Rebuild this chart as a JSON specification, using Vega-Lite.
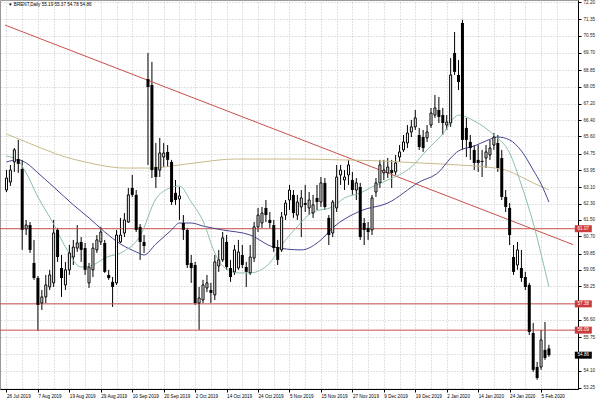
{
"$schema":"https://vega.github.io/schema/vega-lite/v6.json",
"width":578,"height":389,
"autosize":{"type":"none"},
"padding":{"left":0,"top":0,"right":22,"bottom":11},
"background":"white",
"config":{"view":{"stroke":"#999999","strokeWidth":1},"font":"Liberation Sans","axis":{"labelOverlap":false,"labelFlush":false,"labelBound":false,"title":null,"tickCount":200}},
"datasets":{
"ohlc":[
{"i":0,"o":62.97,"h":63.95,"l":62.87,"c":63.56},
{"i":1,"o":63.36,"h":64.20,"l":63.17,"c":63.95},
{"i":2,"o":64.35,"h":65.03,"l":63.86,"c":64.94},
{"i":3,"o":64.49,"h":65.43,"l":63.81,"c":64.25},
{"i":4,"o":64.00,"h":64.45,"l":60.03,"c":61.01},
{"i":5,"o":61.06,"h":61.50,"l":60.76,"c":61.25},
{"i":6,"o":61.25,"h":61.40,"l":59.88,"c":60.03},
{"i":7,"o":59.39,"h":60.52,"l":58.56,"c":58.65},
{"i":8,"o":58.65,"h":58.75,"l":56.05,"c":57.33},
{"i":9,"o":57.42,"h":58.06,"l":57.08,"c":57.72},
{"i":10,"o":57.72,"h":58.80,"l":57.42,"c":58.31},
{"i":11,"o":58.21,"h":59.05,"l":58.06,"c":58.80},
{"i":12,"o":58.41,"h":61.50,"l":58.21,"c":60.86},
{"i":13,"o":61.01,"h":61.11,"l":59.44,"c":59.68},
{"i":14,"o":59.14,"h":59.78,"l":57.72,"c":58.65},
{"i":15,"o":58.31,"h":59.44,"l":58.06,"c":59.05},
{"i":16,"o":59.05,"h":60.27,"l":58.80,"c":59.88},
{"i":17,"o":59.68,"h":60.52,"l":59.29,"c":60.17},
{"i":18,"o":60.12,"h":61.25,"l":59.93,"c":60.37},
{"i":19,"o":60.42,"h":60.66,"l":59.44,"c":60.03},
{"i":20,"o":60.12,"h":60.37,"l":58.80,"c":59.05},
{"i":21,"o":58.41,"h":59.39,"l":58.16,"c":59.19},
{"i":22,"o":59.05,"h":60.37,"l":58.70,"c":60.12},
{"i":23,"o":60.03,"h":60.76,"l":59.88,"c":60.52},
{"i":24,"o":60.42,"h":61.16,"l":60.27,"c":60.91},
{"i":25,"o":60.37,"h":60.52,"l":58.90,"c":58.95},
{"i":26,"o":58.80,"h":59.05,"l":58.56,"c":58.65},
{"i":27,"o":58.46,"h":58.70,"l":57.23,"c":58.21},
{"i":28,"o":58.41,"h":61.01,"l":58.31,"c":60.76},
{"i":29,"o":60.42,"h":61.60,"l":60.37,"c":60.76},
{"i":30,"o":60.86,"h":61.84,"l":60.66,"c":61.50},
{"i":31,"o":61.40,"h":63.07,"l":61.35,"c":62.73},
{"i":32,"o":63.07,"h":63.71,"l":62.63,"c":62.73},
{"i":33,"o":62.73,"h":62.97,"l":60.91,"c":61.01},
{"i":34,"o":61.16,"h":61.30,"l":59.54,"c":60.42},
{"i":35,"o":60.42,"h":60.76,"l":59.88,"c":60.22},
{"i":36,"o":68.42,"h":69.70,"l":64.20,"c":68.03},
{"i":37,"o":68.13,"h":69.26,"l":63.56,"c":63.95},
{"i":38,"o":64.10,"h":65.28,"l":63.07,"c":63.61},
{"i":39,"o":63.95,"h":65.53,"l":63.61,"c":64.79},
{"i":40,"o":64.59,"h":65.28,"l":64.10,"c":64.79},
{"i":41,"o":64.84,"h":65.18,"l":64.10,"c":64.45},
{"i":42,"o":64.35,"h":64.45,"l":62.24,"c":62.38},
{"i":43,"o":62.83,"h":63.46,"l":62.24,"c":62.48},
{"i":44,"o":62.53,"h":63.12,"l":61.50,"c":62.68},
{"i":45,"o":61.35,"h":61.74,"l":60.52,"c":61.01},
{"i":46,"o":61.01,"h":61.11,"l":59.14,"c":59.29},
{"i":47,"o":59.39,"h":59.78,"l":58.41,"c":59.14},
{"i":48,"o":59.29,"h":59.44,"l":57.33,"c":57.42},
{"i":49,"o":57.42,"h":58.21,"l":56.10,"c":57.67},
{"i":50,"o":57.57,"h":58.56,"l":57.42,"c":58.31},
{"i":51,"o":58.16,"h":58.80,"l":57.96,"c":58.41},
{"i":52,"o":58.06,"h":58.41,"l":57.42,"c":57.92},
{"i":53,"o":57.82,"h":59.78,"l":57.57,"c":59.44},
{"i":54,"o":59.24,"h":60.03,"l":58.95,"c":59.54},
{"i":55,"o":59.54,"h":60.91,"l":59.44,"c":60.62},
{"i":56,"o":60.42,"h":60.76,"l":59.05,"c":59.19},
{"i":57,"o":59.14,"h":59.54,"l":58.46,"c":58.70},
{"i":58,"o":58.95,"h":60.27,"l":58.80,"c":60.03},
{"i":59,"o":59.14,"h":60.52,"l":59.05,"c":59.93},
{"i":60,"o":59.78,"h":60.27,"l":59.14,"c":59.29},
{"i":61,"o":59.19,"h":59.44,"l":58.21,"c":58.95},
{"i":62,"o":58.90,"h":60.27,"l":58.80,"c":59.68},
{"i":63,"o":59.63,"h":61.40,"l":59.44,"c":61.16},
{"i":64,"o":61.16,"h":62.09,"l":60.91,"c":61.74},
{"i":65,"o":61.35,"h":62.14,"l":61.11,"c":61.84},
{"i":66,"o":62.09,"h":62.48,"l":61.40,"c":61.74},
{"i":67,"o":61.50,"h":61.89,"l":61.11,"c":61.35},
{"i":68,"o":61.25,"h":61.50,"l":59.93,"c":60.12},
{"i":69,"o":60.17,"h":60.52,"l":59.29,"c":59.54},
{"i":70,"o":60.03,"h":61.89,"l":59.93,"c":61.65},
{"i":71,"o":61.74,"h":62.48,"l":61.50,"c":62.33},
{"i":72,"o":62.48,"h":63.22,"l":61.99,"c":62.97},
{"i":73,"o":62.73,"h":62.97,"l":61.60,"c":61.84},
{"i":74,"o":61.74,"h":62.73,"l":61.50,"c":62.38},
{"i":75,"o":62.14,"h":62.97,"l":60.66,"c":62.58},
{"i":76,"o":62.33,"h":63.22,"l":61.89,"c":62.24},
{"i":77,"o":62.09,"h":62.87,"l":61.74,"c":62.48},
{"i":78,"o":61.84,"h":62.73,"l":61.60,"c":62.24},
{"i":79,"o":62.58,"h":63.22,"l":61.99,"c":62.38},
{"i":80,"o":62.38,"h":63.61,"l":62.14,"c":63.32},
{"i":81,"o":63.32,"h":63.56,"l":61.99,"c":62.14},
{"i":82,"o":61.60,"h":61.74,"l":60.27,"c":60.76},
{"i":83,"o":60.86,"h":62.48,"l":60.66,"c":62.38},
{"i":84,"o":62.09,"h":64.20,"l":61.89,"c":63.61},
{"i":85,"o":63.71,"h":64.20,"l":63.22,"c":63.95},
{"i":86,"o":63.46,"h":63.95,"l":62.97,"c":63.61},
{"i":87,"o":63.71,"h":64.45,"l":63.22,"c":64.20},
{"i":88,"o":63.46,"h":63.86,"l":62.73,"c":62.97},
{"i":89,"o":62.97,"h":63.56,"l":62.48,"c":63.32},
{"i":90,"o":63.12,"h":63.32,"l":60.52,"c":60.66},
{"i":91,"o":61.35,"h":61.60,"l":60.27,"c":61.01},
{"i":92,"o":61.11,"h":61.40,"l":60.52,"c":60.91},
{"i":93,"o":61.01,"h":62.73,"l":60.76,"c":62.58},
{"i":94,"o":62.87,"h":63.56,"l":62.63,"c":63.32},
{"i":95,"o":63.32,"h":64.45,"l":63.07,"c":64.20},
{"i":96,"o":63.81,"h":64.45,"l":63.46,"c":63.95},
{"i":97,"o":63.81,"h":64.54,"l":63.56,"c":64.10},
{"i":98,"o":63.95,"h":64.45,"l":63.07,"c":63.81},
{"i":99,"o":63.86,"h":64.69,"l":63.71,"c":64.30},
{"i":100,"o":64.59,"h":65.18,"l":64.35,"c":64.84},
{"i":101,"o":64.94,"h":65.67,"l":64.84,"c":65.33},
{"i":102,"o":65.28,"h":66.16,"l":65.03,"c":65.77},
{"i":103,"o":65.82,"h":66.41,"l":65.57,"c":66.07},
{"i":104,"o":66.07,"h":66.90,"l":65.92,"c":66.51},
{"i":105,"o":65.67,"h":66.02,"l":64.94,"c":65.08},
{"i":106,"o":65.57,"h":65.92,"l":64.84,"c":65.03},
{"i":107,"o":65.53,"h":66.16,"l":65.33,"c":65.82},
{"i":108,"o":66.16,"h":67.00,"l":66.02,"c":66.75},
{"i":109,"o":66.65,"h":67.64,"l":66.51,"c":67.00},
{"i":110,"o":66.90,"h":67.54,"l":66.26,"c":66.56},
{"i":111,"o":66.65,"h":67.00,"l":65.67,"c":66.26},
{"i":112,"o":66.16,"h":66.65,"l":65.92,"c":66.31},
{"i":113,"o":66.26,"h":69.45,"l":66.07,"c":68.62},
{"i":114,"o":69.70,"h":70.73,"l":68.62,"c":68.77},
{"i":115,"o":68.62,"h":69.35,"l":67.88,"c":68.27},
{"i":116,"o":71.17,"h":71.32,"l":64.94,"c":65.43},
{"i":117,"o":66.02,"h":66.51,"l":64.59,"c":65.43},
{"i":118,"o":65.33,"h":65.67,"l":64.45,"c":65.03},
{"i":119,"o":64.94,"h":65.18,"l":63.95,"c":64.30},
{"i":120,"o":64.45,"h":65.18,"l":63.86,"c":64.30},
{"i":121,"o":64.40,"h":64.94,"l":63.61,"c":64.35},
{"i":122,"o":64.54,"h":65.18,"l":64.05,"c":64.84},
{"i":123,"o":64.69,"h":65.43,"l":64.45,"c":65.03},
{"i":124,"o":65.18,"h":65.77,"l":64.94,"c":65.57},
{"i":125,"o":65.28,"h":65.67,"l":63.86,"c":64.05},
{"i":126,"o":64.54,"h":64.94,"l":62.48,"c":62.63},
{"i":127,"o":62.63,"h":62.97,"l":61.89,"c":62.14},
{"i":128,"o":62.09,"h":62.33,"l":60.27,"c":60.76},
{"i":129,"o":59.68,"h":60.27,"l":58.80,"c":58.95},
{"i":130,"o":59.29,"h":60.42,"l":59.05,"c":60.03},
{"i":131,"o":59.14,"h":60.03,"l":58.46,"c":58.65},
{"i":132,"o":58.70,"h":58.95,"l":58.06,"c":58.21},
{"i":133,"o":58.31,"h":58.41,"l":55.85,"c":56.00},
{"i":134,"o":55.95,"h":56.44,"l":54.04,"c":54.14},
{"i":135,"o":54.28,"h":54.53,"l":53.65,"c":53.74},
{"i":136,"o":54.28,"h":56.10,"l":54.14,"c":55.61},
{"i":137,"o":55.12,"h":56.49,"l":54.63,"c":54.72},
{"i":138,"o":55.19,"h":55.37,"l":54.78,"c":54.86}
],
"ma":[
{"s":"tan","i":0,"v":65.72},{"s":"tan","i":5,"v":65.33},{"s":"tan","i":10,"v":64.94},{"s":"tan","i":15,"v":64.59},{"s":"tan","i":20,"v":64.35},{"s":"tan","i":25,"v":64.15},{"s":"tan","i":30,"v":64.05},{"s":"tan","i":37,"v":64.05},{"s":"tan","i":44,"v":64.20},{"s":"tan","i":50,"v":64.35},{"s":"tan","i":58,"v":64.49},{"s":"tan","i":67,"v":64.49},{"s":"tan","i":75,"v":64.49},{"s":"tan","i":85,"v":64.45},{"s":"tan","i":95,"v":64.40},{"s":"tan","i":105,"v":64.30},{"s":"tan","i":115,"v":64.20},{"s":"tan","i":122,"v":64.10},{"s":"tan","i":127,"v":63.95},{"s":"tan","i":131,"v":63.61},{"s":"tan","i":134,"v":63.32},{"s":"tan","i":138,"v":62.97},
{"s":"blue","i":0,"v":64.35},{"s":"blue","i":3,"v":64.45},{"s":"blue","i":5,"v":64.30},{"s":"blue","i":8,"v":63.81},{"s":"blue","i":12,"v":63.12},{"s":"blue","i":17,"v":62.24},{"s":"blue","i":21,"v":61.60},{"s":"blue","i":25,"v":60.91},{"s":"blue","i":29,"v":60.32},{"s":"blue","i":33,"v":59.93},{"s":"blue","i":35,"v":59.78},{"s":"blue","i":38,"v":60.32},{"s":"blue","i":42,"v":61.01},{"s":"blue","i":44,"v":61.35},{"s":"blue","i":47,"v":61.35},{"s":"blue","i":50,"v":61.20},{"s":"blue","i":55,"v":61.01},{"s":"blue","i":62,"v":60.76},{"s":"blue","i":68,"v":60.17},{"s":"blue","i":75,"v":60.03},{"s":"blue","i":80,"v":60.52},{"s":"blue","i":83,"v":61.11},{"s":"blue","i":90,"v":61.94},{"s":"blue","i":97,"v":62.33},{"s":"blue","i":105,"v":63.36},{"s":"blue","i":110,"v":63.86},{"s":"blue","i":113,"v":64.54},{"s":"blue","i":115,"v":64.89},{"s":"blue","i":119,"v":65.13},{"s":"blue","i":122,"v":65.38},{"s":"blue","i":125,"v":65.57},{"s":"blue","i":128,"v":65.43},{"s":"blue","i":131,"v":64.89},{"s":"blue","i":134,"v":63.95},{"s":"blue","i":136,"v":63.27},{"s":"blue","i":138,"v":62.38},
{"s":"green","i":0,"v":64.64},{"s":"green","i":3,"v":64.40},{"s":"green","i":5,"v":63.81},{"s":"green","i":8,"v":62.63},{"s":"green","i":12,"v":61.30},{"s":"green","i":15,"v":60.17},{"s":"green","i":19,"v":59.19},{"s":"green","i":22,"v":59.29},{"s":"green","i":25,"v":59.63},{"s":"green","i":30,"v":59.98},{"s":"green","i":34,"v":60.71},{"s":"green","i":38,"v":62.53},{"s":"green","i":41,"v":63.02},{"s":"green","i":44,"v":63.17},{"s":"green","i":47,"v":62.38},{"s":"green","i":50,"v":61.45},{"s":"green","i":53,"v":59.88},{"s":"green","i":55,"v":59.24},{"s":"green","i":59,"v":58.90},{"s":"green","i":62,"v":58.90},{"s":"green","i":67,"v":59.39},{"s":"green","i":70,"v":60.27},{"s":"green","i":73,"v":60.96},{"s":"green","i":78,"v":61.89},{"s":"green","i":83,"v":62.14},{"s":"green","i":86,"v":62.58},{"s":"green","i":90,"v":62.82},{"s":"green","i":93,"v":63.12},{"s":"green","i":97,"v":63.46},{"s":"green","i":103,"v":64.10},{"s":"green","i":107,"v":64.94},{"s":"green","i":111,"v":65.72},{"s":"green","i":115,"v":66.65},{"s":"green","i":119,"v":66.36},{"s":"green","i":124,"v":65.67},{"s":"green","i":128,"v":64.79},{"s":"green","i":131,"v":63.22},{"s":"green","i":134,"v":61.35},{"s":"green","i":136,"v":59.83},{"s":"green","i":138,"v":58.21}
],
"levels":[{"p":61.07,"t":"61.07"},{"p":57.38,"t":"57.38"},{"p":56.09,"t":"56.09"}],
"current":[{"p":54.86,"t":"54.86"}]
},
"layer":[
{
"data":{"name":"ohlc"},
"mark":{"type":"rule","color":"#000000","strokeWidth":1,"clip":true},
"encoding":{
"x":{"field":"i","type":"quantitative","scale":{"domain":[-0.375,144.125],"zero":false,"nice":false},
"axis":{"orient":"bottom","title":null,"tickCount":200,"values":[0,4,8,12,16,20,24,28,32,36,40,44,48,52,56,60,64,68,72,76,80,84,88,92,96,100,104,108,112,116,120,124,128,132,136,140],
"labelExpr":"datum.value % 8 === 0 ? ['26 Jul 2019','7 Aug 2019','19 Aug 2019','29 Aug 2019','10 Sep 2019','20 Sep 2019','2 Oct 2019','14 Oct 2019','24 Oct 2019','5 Nov 2019','15 Nov 2019','27 Nov 2019','9 Dec 2019','19 Dec 2019','2 Jan 2020','14 Jan 2020','24 Jan 2020','5 Feb 2020'][datum.value / 8] : ''",
"labelAlign":"left","labelFontSize":4.6,"labelFont":"Liberation Sans","labelColor":"#000000","labelPadding":1.5,"labelOverlap":false,"labelFlush":false,"labelBound":false,
"tickSize":3,"tickColor":"#000000","tickOpacity":{"condition":{"test":"datum.value % 8 === 0","value":1},"value":0},
"domainColor":"#000000","grid":true,"gridColor":"#c4c4c4","gridDash":[1,2]}},
"y":{"field":"l","type":"quantitative","scale":{"domain":[53.2,72.3],"zero":false,"nice":false},
"axis":{"orient":"right","title":null,"tickCount":200,"values":[72.20,71.35,70.55,69.70,68.85,68.05,67.20,66.40,65.60,64.75,63.95,63.10,62.30,61.50,60.70,59.85,59.05,58.25,57.40,56.60,55.75,54.90,54.10,53.25],
"labelExpr":"abs(datum.value - 57.4) < 0.01 || abs(datum.value - 54.9) < 0.01 ? '' : format(datum.value, '.2f')",
"labelFontSize":4.6,"labelFont":"Liberation Sans","labelColor":"#222222","labelPadding":2,"labelOverlap":false,"labelFlush":false,"labelBound":false,
"tickSize":3,"tickColor":"#000000","domainColor":"#000000","grid":true,"gridColor":"#c4c4c4","gridDash":[1,2]}},
"y2":{"field":"h"}
}
},
{
"data":{"name":"levels"},
"mark":{"type":"rule","color":"#c8504b","strokeWidth":1},
"encoding":{"y":{"field":"p","type":"quantitative"}}
},
{
"data":{"values":[{"i1":-0.375,"p1":71.07,"i2":144.125,"p2":60.29}]},
"mark":{"type":"rule","color":"#c8504b","strokeWidth":1,"clip":true},
"encoding":{"x":{"field":"i1","type":"quantitative"},"y":{"field":"p1","type":"quantitative"},"x2":{"field":"i2"},"y2":{"field":"p2"}}
},
{
"data":{"name":"ma"},
"mark":{"type":"line","strokeWidth":1,"interpolate":"monotone","clip":true},
"encoding":{
"x":{"field":"i","type":"quantitative"},
"y":{"field":"v","type":"quantitative"},
"color":{"field":"s","type":"nominal","scale":{"domain":["tan","blue","green"],"range":["#c9b98c","#45458f","#8cc0a6"]},"legend":null}
}
},
{
"data":{"name":"ohlc"},
"transform":[{"filter":"datum.c < datum.o"}],
"mark":{"type":"bar","width":3,"color":"#000000","clip":true},
"encoding":{"x":{"field":"i","type":"quantitative"},"y":{"field":"o","type":"quantitative"},"y2":{"field":"c"}}
},
{
"data":{"name":"ohlc"},
"transform":[{"filter":"datum.c >= datum.o"}],
"mark":{"type":"bar","width":2,"fill":"#ffffff","stroke":"#000000","strokeWidth":1,"clip":true},
"encoding":{"x":{"field":"i","type":"quantitative"},"y":{"field":"o","type":"quantitative"},"y2":{"field":"c"}}
},
{
"data":{"name":"levels"},
"mark":{"type":"point","shape":"M-1,-0.41H1V0.41H-1Z","size":289,"filled":true,"fill":"#cc3b3b","opacity":1,"strokeWidth":0,"clip":false},
"encoding":{"x":{"datum":146.75,"type":"quantitative"},"y":{"field":"p","type":"quantitative"}}
},
{
"data":{"name":"current"},
"mark":{"type":"point","shape":"M-1,-0.41H1V0.41H-1Z","size":289,"filled":true,"fill":"#000000","opacity":1,"strokeWidth":0,"clip":false},
"encoding":{"x":{"datum":146.75,"type":"quantitative"},"y":{"field":"p","type":"quantitative"}}
},
{
"data":{"name":"levels"},
"mark":{"type":"text","color":"#ffffff","fontSize":4.6,"font":"Liberation Sans","align":"center","baseline":"middle","clip":false},
"encoding":{"x":{"datum":146.75,"type":"quantitative"},"y":{"field":"p","type":"quantitative"},"text":{"field":"t"}}
},
{
"data":{"name":"current"},
"mark":{"type":"text","color":"#ffffff","fontSize":4.6,"font":"Liberation Sans","align":"center","baseline":"middle","clip":false},
"encoding":{"x":{"datum":146.75,"type":"quantitative"},"y":{"field":"p","type":"quantitative"},"text":{"field":"t"}}
},
{
"data":{"values":[{"t":"▼ BRENT,Daily  55.19 55.37 54.78 54.86"}]},
"mark":{"type":"text","color":"#000000","fontSize":4.6,"font":"Liberation Sans","align":"left","baseline":"middle","clip":false},
"encoding":{
"x":{"datum":0.4,"type":"quantitative"},
"y":{"datum":72.05,"type":"quantitative"},
"text":{"field":"t"}
}
}
]
}
